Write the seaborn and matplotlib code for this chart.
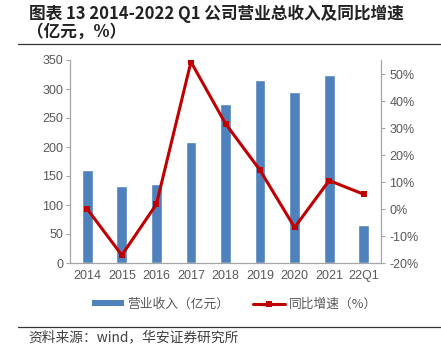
import matplotlib
matplotlib.use("Agg")
import matplotlib.pyplot as plt
import numpy as np
import pandas as pd
import seaborn as sns
from matplotlib.lines import Line2D
from matplotlib.patches import Patch
from matplotlib.ticker import FuncFormatter

periods = ["2014", "2015", "2016", "2017", "2018", "2019", "2020", "2021", "22Q1"]
revenue = [160, 133, 136, 209, 275, 315, 294, 325, 65.5]
growth = [0.0, -17.1, 1.8, 54.6, 31.7, 14.4, -6.8, 10.6, 5.5]

BAR_COLOR = "#4F81BD"
LINE_COLOR = "#C00000"
TEXT_GRAY = "#595959"
AXIS_GRAY = "#A6A6A6"
CJK = ["Noto Sans CJK SC", "DejaVu Sans"]

sns.set_theme(style="white")
plt.rcParams["font.family"] = ["Liberation Sans", "Noto Sans CJK SC", "DejaVu Sans"]

df = pd.DataFrame({"period": periods, "revenue": revenue, "growth": growth})

fig = plt.figure(figsize=(4.41, 3.55), dpi=100)
ax = fig.add_axes([70 / 441, (355 - 263) / 355, 311 / 441, 203 / 355])

sns.barplot(data=df, x="period", y="revenue", color=BAR_COLOR, width=0.31,
            saturation=1, ax=ax)
ax.set_xlim(-0.5, len(periods) - 0.5)
ax.set_ylim(0, 350)
ax.set_yticks(np.arange(0, 351, 50))
ax.set_xlabel("")
ax.set_ylabel("")

ax2 = ax.twinx()
sns.lineplot(x=np.arange(len(periods)), y=df["growth"], color=LINE_COLOR, linewidth=2.2,
             marker="s", markersize=5, markeredgewidth=0, ax=ax2)
ax2.set_ylim(-20, 55.3)
ax2.set_yticks(np.arange(-20, 51, 10))
ax2.yaxis.set_major_formatter(FuncFormatter(lambda v, _: f"{v:.0f}%"))
ax2.set_ylabel("")

for a in (ax, ax2):
    a.spines["top"].set_visible(False)
    for side in ("left", "right", "bottom"):
        a.spines[side].set_color(AXIS_GRAY)
        a.spines[side].set_linewidth(0.9)
    a.tick_params(axis="y", colors=AXIS_GRAY, labelcolor=TEXT_GRAY, labelsize=9,
                  length=3, width=0.8, direction="out")
ax.spines["right"].set_visible(False)
ax2.spines["left"].set_visible(False)
ax2.spines["bottom"].set_visible(False)

ax.tick_params(axis="x", which="major", length=0, labelsize=9, labelcolor=TEXT_GRAY, pad=5)
ax.set_xticks(np.arange(-0.5, len(periods), 1.0), minor=True)
ax.tick_params(axis="x", which="minor", length=3, width=0.8, color=AXIS_GRAY, direction="out")
ax.tick_params(axis="y", pad=2)
ax2.tick_params(axis="y", pad=3)

handles = [
    Patch(facecolor=BAR_COLOR, edgecolor="none"),
    Line2D([], [], color=LINE_COLOR, linewidth=2.2, marker="s", markersize=5, markeredgewidth=0),
]
leg = fig.legend(handles, ["营业收入（亿元）", "同比增速（%）"], loc="center left",
                 bbox_to_anchor=(88 / 441, (355 - 304) / 355), ncol=2, frameon=False,
                 prop={"family": CJK, "size": 9.2}, handlelength=2.5, handleheight=0.45,
                 columnspacing=1.8, handletextpad=0.3, borderaxespad=0, borderpad=0.3)
for t in leg.get_texts():
    t.set_color(TEXT_GRAY)

fig.text(29 / 441, 1 - 14 / 355, "图表 13 2014-2022 Q1 公司营业总收入及同比增速",
         fontsize=12, fontweight="bold", family=CJK, va="center", ha="left", color="#222222")
fig.text(27 / 441, 1 - 32 / 355, "（亿元，%）",
         fontsize=12, fontweight="bold", family=CJK, va="center", ha="left", color="#222222")

fig.add_artist(Line2D([18 / 441, 1], [1 - 44 / 355] * 2, color="#333333", linewidth=0.9))
fig.add_artist(Line2D([18 / 441, 1], [1 - 327 / 355] * 2, color="#333333", linewidth=0.9))

fig.text(28 / 441, 1 - 337 / 355, "资料来源：wind，华安证券研究所", fontsize=9.9,
         family=CJK, va="center", ha="left", color="#404040")

fig.savefig("out.png", dpi=100)
